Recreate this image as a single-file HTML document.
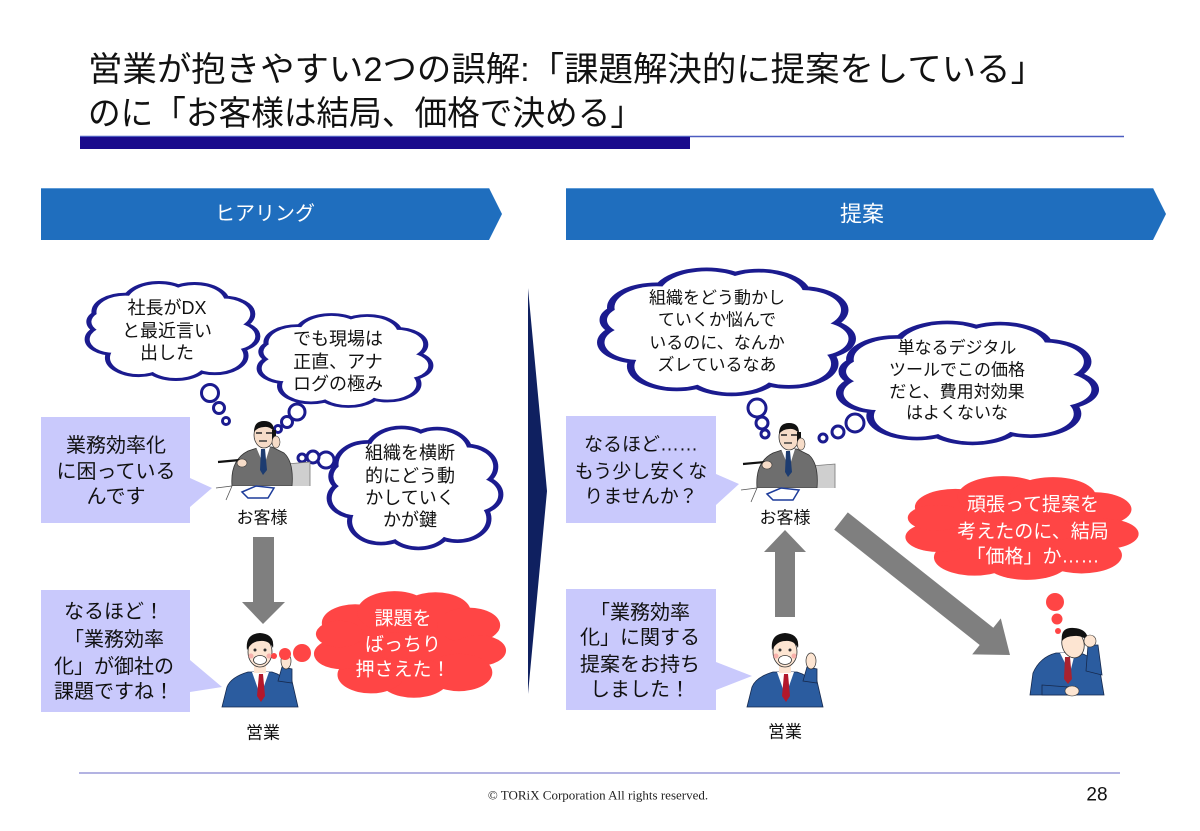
<!DOCTYPE html>
<html><head><meta charset="utf-8"><style>
html,body{margin:0;padding:0;background:#fff;}
body{width:1200px;height:831px;overflow:hidden;position:relative;}
svg{position:absolute;left:0;top:0;}
text{font-family:"Liberation Sans","Noto Sans CJK JP",sans-serif;}
</style></head><body>
<svg width="1200" height="831" viewBox="0 0 1200 831" xmlns="http://www.w3.org/2000/svg">
<defs>
  <g id="cb">
    <ellipse cx="50" cy="50" rx="36" ry="32"/>
    <circle cx="22" cy="30" r="17"/><circle cx="42" cy="20" r="19"/><circle cx="63" cy="20" r="18"/>
    <circle cx="80" cy="32" r="16"/><circle cx="85" cy="55" r="14"/><circle cx="75" cy="75" r="17"/>
    <circle cx="52" cy="80" r="18"/><circle cx="30" cy="77" r="17"/><circle cx="15" cy="58" r="14"/>
    <circle cx="14" cy="40" r="12"/>
  </g>
  <g id="cust">
    <path d="M74,44 L98,42 L98,74 L74,76 Z" fill="#cfcfcf" stroke="#777" stroke-width="0.8"/>
    <path d="M20,66 Q18,40 36,31 L48,27 L60,27 L72,33 Q82,42 80,66 Z" fill="#6e6e6e" stroke="#333" stroke-width="0.8"/>
    <path d="M44,27 L58,27 L52,46 Z" fill="#fff"/>
    <path d="M49,29 L53,29 L55,50 L51,55 L48,50 Z" fill="#1d3c70"/>
    <ellipse cx="52" cy="15" rx="10" ry="13" fill="#f6dcc8" stroke="#333" stroke-width="0.8"/>
    <path d="M42,12 Q42,1 52,1 Q62,1 62,11 Q57,6 52,7 Q46,7 42,12 Z" fill="#111"/>
    <path d="M44,13 h6 M54,13 h6" stroke="#222" stroke-width="1.5"/>
    <path d="M47,21 h8" stroke="#333" stroke-width="1.4"/>
    <rect x="60" y="10" width="4" height="10" fill="#111"/>
    <ellipse cx="64" cy="22" rx="4" ry="6" fill="#f6dcc8" stroke="#333" stroke-width="0.6"/>
    <path d="M6,42 L28,40" stroke="#111" stroke-width="2.2"/>
    <ellipse cx="30" cy="43" rx="5" ry="4" fill="#f6dcc8" stroke="#333" stroke-width="0.6"/>
    <path d="M0,66 L100,66 L102,80 L2,80 Z" fill="#fff"/>
    <path d="M4,68 L20,66 L14,80" fill="none" stroke="#555" stroke-width="0.8"/>
    <path d="M30,72 L44,66 L62,68 L56,78 L36,78 Z" fill="#fff" stroke="#1d3c9a" stroke-width="1.5"/>
  </g>
  <g id="sales">
    <path d="M0,74 L5,54 Q9,44 26,39 L50,39 Q60,42 64,48 L70,48 L76,74 Z" fill="#2b5c9f" stroke="#16294d" stroke-width="0.8"/>
    <path d="M30,39 L47,39 L41,56 L36,56 Z" fill="#fff"/>
    <path d="M37,41 L41,41 L43,63 L39,69 L35,63 Z" fill="#b3182b"/>
    <rect x="32" y="30" width="12" height="10" fill="#fde5d2"/>
    <ellipse cx="38" cy="19" rx="12" ry="15" fill="#fde5d2" stroke="#333" stroke-width="0.8"/>
    <path d="M25,17 Q23,1 38,0 Q53,1 51,15 Q47,7 38,8 Q30,8 25,17 Z" fill="#111"/>
    <ellipse cx="38" cy="27" rx="6.5" ry="4.5" fill="#fff" stroke="#333" stroke-width="0.8"/>
    <circle cx="33" cy="17" r="1.5" fill="#333"/><circle cx="43" cy="17" r="1.5" fill="#333"/>
    <circle cx="29" cy="23" r="2.5" fill="#f49a9a" opacity="0.7"/><circle cx="47" cy="23" r="2.5" fill="#f49a9a" opacity="0.7"/>
    <path d="M56,48 L60,34 L70,36 L70,50 Z" fill="#2b5c9f" stroke="#16294d" stroke-width="0.8"/>
    <ellipse cx="64" cy="28" rx="5" ry="8" fill="#fde5d2" stroke="#333" stroke-width="0.7"/>
  </g>
</defs>

<!-- Title -->
<text x="88" y="81" font-size="34" fill="#111" textLength="957" lengthAdjust="spacingAndGlyphs">営業が抱きやすい2つの誤解:「課題解決的に提案をしている」</text>
<text x="88" y="125" font-size="34" fill="#111" textLength="555" lengthAdjust="spacingAndGlyphs">のに「お客様は結局、価格で決める」</text>
<line x1="80" y1="136.5" x2="1124" y2="136.5" stroke="#4c5cc0" stroke-width="1.5"/>
<rect x="80" y="137" width="610" height="12" fill="#1a0b8c"/>

<!-- Headers -->
<polygon points="41,188 489,188 502,214 489,240 41,240" fill="#1f6ebe"/>
<polygon points="566,188 1153,188 1166,214 1153,240 566,240" fill="#1f6ebe"/>
<line x1="41" y1="188.5" x2="489" y2="188.5" stroke="#5d9ad6" stroke-width="1"/>
<line x1="566" y1="188.5" x2="1153" y2="188.5" stroke="#5d9ad6" stroke-width="1"/>
<text x="265" y="214" font-size="20" fill="#fff" text-anchor="middle" dominant-baseline="central">ヒアリング</text>
<text x="862" y="214" font-size="22" fill="#fff" text-anchor="middle" dominant-baseline="central">提案</text>

<!-- Divider -->
<polygon points="528,288 547,491 528,694" fill="#0f2060"/>

<!-- Left navy clouds -->
<g transform="translate(88,283) scale(1.69,0.97)">
  <use href="#cb" fill="#1b1b8f" stroke="#1b1b8f" stroke-width="6" style="vector-effect:non-scaling-stroke"/>
  <use href="#cb" fill="#fff"/>
</g>
<g transform="translate(260,315) scale(1.70,0.92)">
  <use href="#cb" fill="#1b1b8f" stroke="#1b1b8f" stroke-width="6" style="vector-effect:non-scaling-stroke"/>
  <use href="#cb" fill="#fff"/>
</g>
<g transform="translate(330,428) scale(1.70,1.21)">
  <use href="#cb" fill="#1b1b8f" stroke="#1b1b8f" stroke-width="6" style="vector-effect:non-scaling-stroke"/>
  <use href="#cb" fill="#fff"/>
</g>
<g fill="#fff" stroke="#1b1b8f" stroke-width="3">
  <circle cx="210" cy="393" r="8.5"/><circle cx="219" cy="408" r="5.5"/><circle cx="226" cy="421" r="3.5"/>
  <circle cx="297" cy="412" r="8"/><circle cx="287" cy="422" r="5.5"/><circle cx="278" cy="429" r="3.5"/>
  <circle cx="326" cy="460" r="8"/><circle cx="313" cy="457" r="6"/><circle cx="302" cy="458" r="4"/>
</g>
<g font-size="18" fill="#111" text-anchor="middle" dominant-baseline="central">
  <text x="167" y="308">社長がDX</text>
  <text x="167" y="331">と最近言い</text>
  <text x="167" y="353">出した</text>
  <text x="338" y="339">でも現場は</text>
  <text x="338" y="362">正直、アナ</text>
  <text x="338" y="384">ログの極み</text>
  <text x="410" y="453">組織を横断</text>
  <text x="410" y="476">的にどう動</text>
  <text x="410" y="498">かしていく</text>
  <text x="410" y="520">かが鍵</text>
</g>

<!-- Left speech boxes -->
<polygon points="41,417 190,417 190,478 212,488 190,507 190,523 41,523" fill="#c9c9fc"/>
<polygon points="41,590 190,590 190,660 222,687 190,692 190,712 41,712" fill="#c9c9fc"/>
<g font-size="20" fill="#111" text-anchor="middle" dominant-baseline="central">
  <text x="116" y="446">業務効率化</text>
  <text x="116" y="472">に困っている</text>
  <text x="116" y="497">んです</text>
  <text x="114" y="612">なるほど！</text>
  <text x="114" y="640">「業務効率</text>
  <text x="114" y="667">化」が御社の</text>
  <text x="114" y="692">課題ですね！</text>
</g>

<!-- Left figures -->
<use href="#cust" x="212" y="420"/>
<text x="262" y="518" font-size="17" fill="#111" text-anchor="middle" dominant-baseline="central">お客様</text>
<polygon points="253,537 274,537 274,602 285,602 263,624 242,602 253,602" fill="#7f7f7f"/>
<use href="#sales" x="222" y="633"/>
<text x="263" y="733" font-size="17" fill="#111" text-anchor="middle" dominant-baseline="central">営業</text>

<!-- Left red cloud -->
<g transform="translate(312,590) scale(1.96,1.10)"><use href="#cb" fill="#ff4545"/></g>
<g fill="#ff4545"><circle cx="302" cy="653" r="9"/><circle cx="285" cy="654" r="6"/><circle cx="274" cy="656" r="3"/></g>
<g font-size="19" fill="#fff" text-anchor="middle" dominant-baseline="central">
  <text x="403" y="619">課題を</text>
  <text x="403" y="645">ばっちり</text>
  <text x="403" y="670">押さえた！</text>
</g>

<!-- Right navy clouds -->
<g transform="translate(602,270) scale(2.49,1.25)">
  <use href="#cb" fill="#1b1b8f" stroke="#1b1b8f" stroke-width="6" style="vector-effect:non-scaling-stroke"/>
  <use href="#cb" fill="#fff"/>
</g>
<g transform="translate(841,323) scale(2.53,1.21)">
  <use href="#cb" fill="#1b1b8f" stroke="#1b1b8f" stroke-width="6" style="vector-effect:non-scaling-stroke"/>
  <use href="#cb" fill="#fff"/>
</g>
<g fill="#fff" stroke="#1b1b8f" stroke-width="3">
  <circle cx="757" cy="408" r="9"/><circle cx="762" cy="423" r="6"/><circle cx="765" cy="434" r="4"/>
  <circle cx="855" cy="423" r="9"/><circle cx="838" cy="432" r="6"/><circle cx="823" cy="438" r="4"/>
</g>
<g font-size="17" fill="#111" text-anchor="middle" dominant-baseline="central">
  <text x="717" y="298">組織をどう動かし</text>
  <text x="717" y="320">ていくか悩んで</text>
  <text x="717" y="343">いるのに、なんか</text>
  <text x="717" y="365">ズレているなあ</text>
  <text x="957" y="348">単なるデジタル</text>
  <text x="957" y="370">ツールでこの価格</text>
  <text x="957" y="392">だと、費用対効果</text>
  <text x="957" y="413">はよくないな</text>
</g>

<!-- Right speech boxes -->
<polygon points="566,416 716,416 716,474 739,484 716,505 716,523 566,523" fill="#c9c9fc"/>
<polygon points="566,589 716,589 716,662 752,676 716,690 716,710 566,710" fill="#c9c9fc"/>
<g font-size="19" fill="#111" text-anchor="middle" dominant-baseline="central">
  <text x="641" y="445">なるほど……</text>
  <text x="641" y="472">もう少し安くな</text>
  <text x="641" y="497">りませんか？</text>
</g>
<g font-size="20" fill="#111" text-anchor="middle" dominant-baseline="central">
  <text x="640" y="613">「業務効率</text>
  <text x="640" y="638">化」に関する</text>
  <text x="640" y="665">提案をお持ち</text>
  <text x="640" y="690">しました！</text>
</g>

<!-- Right figures -->
<use href="#cust" x="737" y="422"/>
<text x="785" y="518" font-size="17" fill="#111" text-anchor="middle" dominant-baseline="central">お客様</text>
<polygon points="775,617 795,617 795,552 806,552 785,530 764,552 775,552" fill="#7f7f7f"/>
<use href="#sales" x="747" y="633"/>
<text x="785" y="732" font-size="17" fill="#111" text-anchor="middle" dominant-baseline="central">営業</text>
<polygon points="847.8,512.4 993.3,627.8 1000.8,618.4 1010,655 972.2,654.4 979.7,645 834.2,529.6" fill="#7f7f7f"/>

<!-- Right red cloud -->
<g transform="translate(903,475) scale(2.38,1.07)"><use href="#cb" fill="#ff4545"/></g>
<g fill="#ff4545"><circle cx="1055" cy="602" r="9"/><circle cx="1057" cy="619" r="5.5"/><circle cx="1058" cy="631" r="3"/></g>
<g font-size="19" fill="#fff" text-anchor="middle" dominant-baseline="central">
  <text x="1033" y="505">頑張って提案を</text>
  <text x="1033" y="532">考えたのに、結局</text>
  <text x="1033" y="557">「価格」か……</text>
</g>

<!-- Dejected person -->
<g transform="translate(1028,627)">
  <path d="M2,68 L5,46 Q12,30 28,26 L52,26 Q66,30 72,44 L76,68 Z" fill="#2b5c9f" stroke="#16294d" stroke-width="0.8"/>
  <path d="M32,26 L47,26 L42,46 Z" fill="#fff"/>
  <path d="M37,30 L42,30 L44,52 L40,57 L36,52 Z" fill="#a8222f"/>
  <ellipse cx="45" cy="17" rx="11" ry="14" fill="#fde5d2" stroke="#333" stroke-width="0.8" transform="rotate(-15 45 17)"/>
  <path d="M34,14 Q32,0 46,1 Q60,2 60,14 Q54,8 46,9 Q38,9 34,14 Z" fill="#111"/>
  <path d="M58,44 L60,18 L70,18 L74,48 Z" fill="#2b5c9f" stroke="#16294d" stroke-width="0.8"/>
  <ellipse cx="62" cy="14" rx="6" ry="6" fill="#fde5d2" stroke="#333" stroke-width="0.6"/>
  <path d="M14,58 L40,60 L40,68 L14,68 Z" fill="#2b5c9f" stroke="#16294d" stroke-width="0.8"/>
  <ellipse cx="44" cy="64" rx="7" ry="5" fill="#fde5d2" stroke="#333" stroke-width="0.6"/>
</g>

<!-- Footer -->
<line x1="79" y1="773" x2="1120" y2="773" stroke="#9a9ad8" stroke-width="1.5"/>
<text x="598" y="795" font-size="13" fill="#222" text-anchor="middle" dominant-baseline="central" style="font-family:'Liberation Serif',serif">© TORiX Corporation All rights reserved.</text>
<text x="1097" y="795" font-size="19" fill="#111" text-anchor="middle" dominant-baseline="central">28</text>
</svg>
</body></html>
